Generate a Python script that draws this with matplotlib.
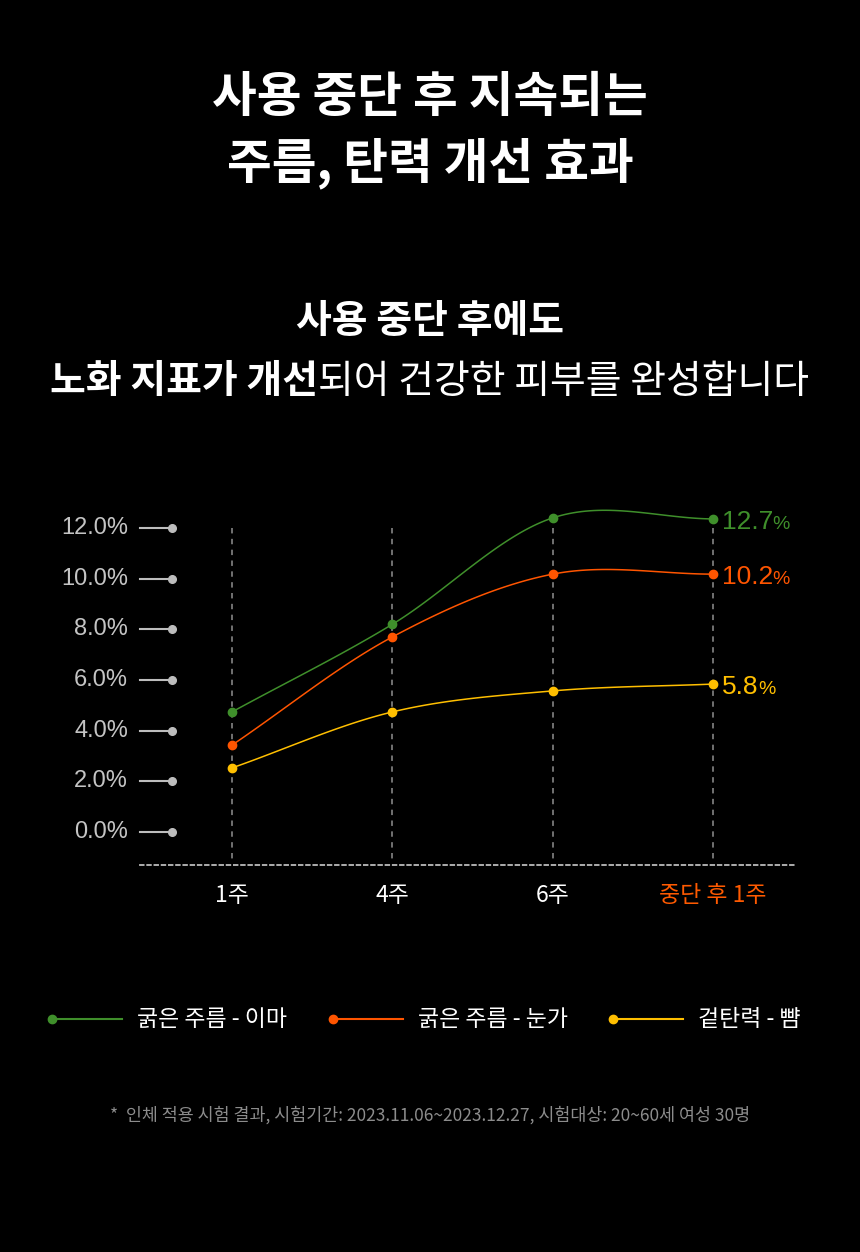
import numpy as np
import matplotlib
matplotlib.use("Agg")
import matplotlib.pyplot as plt

# ---------------- data ----------------
categories = ["1주", "4주", "6주", "중단 후 1주"]
category_colors = ["#ffffff", "#ffffff", "#ffffff", "#ff5a00"]
series_names = ["굵은 주름 - 이마", "굵은 주름 - 눈가", "겉탄력 - 뺨"]
series_colors = ["#3f8f2b", "#ff5500", "#ffbf00"]
forehead = [4.74, 8.2, 12.4, 12.36]
eyes = [3.43, 7.7, 10.18, 10.18]
cheek = [2.53, 4.74, 5.57, 5.84]
end_labels = ["12.7", "10.2", "5.8"]
yticks = [0, 2, 4, 6, 8, 10, 12]
ytick_labels = ["0.0%", "2.0%", "4.0%", "6.0%", "8.0%", "10.0%", "12.0%"]

KR = ["Noto Sans CJK KR", "DejaVu Sans"]
LAT = ["Liberation Sans", "DejaVu Sans"]

W, H = 860, 1252
fig = plt.figure(figsize=(W / 100, H / 100), dpi=100, facecolor="black")

# overlay axes in pixel coordinates for text decorations
ov = fig.add_axes([0, 0, 1, 1])
ov.set_xlim(0, W)
ov.set_ylim(H, 0)
ov.axis("off")
ov.set_facecolor("none")

# ---------------- titles ----------------
ov.text(430, 97, "사용 중단 후 지속되는", ha="center", va="center", color="white",
        fontsize=35, fontweight="bold", family=KR)
ov.text(430, 163, "주름, 탄력 개선 효과", ha="center", va="center", color="white",
        fontsize=35, fontweight="bold", family=KR)
ov.text(430, 322, "사용 중단 후에도", ha="center", va="center", color="white",
        fontsize=28, fontweight="bold", family=KR)
t1 = ov.text(0, 382, "노화 지표가 개선", ha="left", va="center", color="white",
             fontsize=28, fontweight="bold", family=KR)
t2 = ov.text(0, 382, "되어 건강한 피부를 완성합니다", ha="left", va="center", color="white",
             fontsize=28, fontweight="normal", family=KR)

# ---------------- chart axes ----------------
px_per_x = 160.33
px_per_y = 25.33
x0_px, y0_px = 232, 832
left_px, right_px, top_px, bot_px = 140, 797, 500, 865
ax = fig.add_axes([left_px / W, (H - bot_px) / H, (right_px - left_px) / W, (bot_px - top_px) / H])
ax.set_facecolor("none")
ax.set_xlim((left_px - x0_px) / px_per_x, (right_px - x0_px) / px_per_x)
ax.set_ylim((y0_px - bot_px) / px_per_y, (y0_px - top_px) / px_per_y)
for s in ["top", "right", "left"]:
    ax.spines[s].set_visible(False)
ax.spines["bottom"].set_color("#bbbbbb")
ax.spines["bottom"].set_linewidth(1.3)
ax.spines["bottom"].set_linestyle((0, (2, 2)))
ax.set_xticks([])
ax.set_yticks([])

xs = np.arange(len(categories))
ybot = ax.get_ylim()[0]

# vertical dashed guide lines
for x in xs:
    ax.plot([x, x], [12, ybot + 0.12], color="#7a7a7a", lw=1.3,
            linestyle=(0, (3, 3)), zorder=1, clip_on=False)

# y ticks (label, line, dot)
xl = ax.get_xlim()[0]
for v, lab in zip(yticks, ytick_labels):
    ax.plot([xl, xl + 0.2], [v, v], color="#bdbdbd", lw=1.5, clip_on=False, zorder=2)
    ax.plot([xl + 0.2], [v], "o", color="#bdbdbd", ms=5.5, clip_on=False, zorder=2)
    ax.text(xl - 0.075, v, lab, ha="right", va="center", color="#c4c4c4",
            fontsize=17, family=LAT, clip_on=False)

# x category labels
for x, lab, c in zip(xs, categories, category_colors):
    ax.text(x, (y0_px - 896) / px_per_y, lab, ha="center", va="center", color=c,
            fontsize=16.5, family=KR, clip_on=False)


def smooth(xv, yv, n=40):
    xv = np.asarray(xv, float)
    yv = np.asarray(yv, float)
    m = np.zeros_like(yv)
    m[1:-1] = (yv[2:] - yv[:-2]) / (xv[2:] - xv[:-2])
    m[0] = (yv[1] - yv[0]) / (xv[1] - xv[0])
    m[-1] = (yv[-1] - yv[-2]) / (xv[-1] - xv[-2])
    ox, oy = [], []
    for i in range(len(xv) - 1):
        h = xv[i + 1] - xv[i]
        t = np.linspace(0, 1, n, endpoint=(i == len(xv) - 2))
        h00 = 2 * t**3 - 3 * t**2 + 1
        h10 = t**3 - 2 * t**2 + t
        h01 = -2 * t**3 + 3 * t**2
        h11 = t**3 - t**2
        ox.append(xv[i] + t * h)
        oy.append(h00 * yv[i] + h10 * h * m[i] + h01 * yv[i + 1] + h11 * h * m[i + 1])
    return np.concatenate(ox), np.concatenate(oy)


all_series = [forehead, eyes, cheek]
for vals, col, lab in zip(all_series, series_colors, end_labels):
    sx, sy = smooth(xs, vals)
    ax.plot(sx, sy, color=col, lw=1.1, zorder=3, clip_on=False)
    ax.plot(xs, vals, "o", color=col, ms=6, zorder=4, clip_on=False)
    tn = ax.text(xs[-1] + 0.056, vals[-1] - 0.12, lab, ha="left", va="center",
                 color=col, fontsize=19, family=LAT, clip_on=False)
    ax.annotate("%", xy=(1, 0), xycoords=tn, xytext=(-0.5, 0.6), textcoords="offset points",
                ha="left", va="bottom", color=col, fontsize=14, family=LAT,
                annotation_clip=False)

# ---------------- legend ----------------
leg_y = 1019
leg_x = [52, 333, 613]
for lx, col, name in zip(leg_x, series_colors, series_names):
    ov.plot([lx, lx + 70], [leg_y, leg_y], color=col, lw=1.5)
    ov.plot([lx], [leg_y], "o", color=col, ms=6)
    ov.text(lx + 85, leg_y, name, ha="left", va="center", color="white",
            fontsize=16.5, family=KR)

# ---------------- footnote ----------------
ov.text(430, 1115, "*  인체 적용 시험 결과, 시험기간: 2023.11.06~2023.12.27, 시험대상: 20~60세 여성 30명",
        ha="center", va="center", color="#8c8c8c", fontsize=12.5, family=KR)

# center the mixed-weight subtitle line
fig.canvas.draw()
r = fig.canvas.get_renderer()
w1 = t1.get_window_extent(r).width
w2 = t2.get_window_extent(r).width
start = (W - (w1 + w2)) / 2
t1.set_x(start)
t2.set_x(start + w1)

fig.savefig("out.png", dpi=100, facecolor="black")
